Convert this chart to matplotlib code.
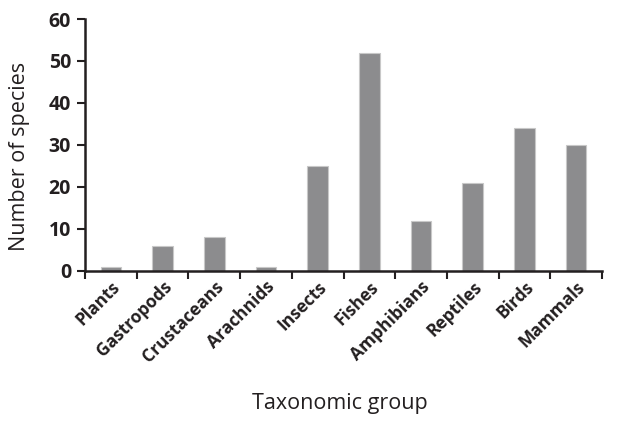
import matplotlib.pyplot as plt
import numpy as np

# datos
groups = ["Plants", "Gastropods", "Crustaceans", "Arachnids", "Insects",
          "Fishes", "Amphibians", "Reptiles", "Birds", "Mammals"]
n_species = [1, 6, 8, 1, 25, 52, 12, 21, 34, 30]
yticks = [0, 10, 20, 30, 40, 50, 60]

plt.rcParams['font.family'] = ['Open Sans', 'DejaVu Sans']

fig = plt.figure(figsize=(6.21, 4.22), dpi=100)
ax = fig.add_axes([85 / 621, 1 - 271 / 422, 517 / 621, 252 / 422])

x = np.arange(len(groups))
ax.bar(x, n_species, width=0.4, color="#8c8c8e", edgecolor="#c8c8c8", linewidth=0.8)

ax.set_xlim(-0.5, len(groups) - 0.5)
ax.set_ylim(0, 60)
ax.set_yticks(yticks)
ax.set_yticklabels([str(t) for t in yticks], fontsize=14, fontweight="bold", color="#231f20")

# ticks del eje x en los bordes de categorias
ax.set_xticks(np.arange(len(groups) + 1) - 0.5)
ax.set_xticklabels([])
ax.set_xticks(x, minor=True)
ax.set_xticklabels(groups, minor=True, rotation=45, ha="right", rotation_mode="anchor",
                   fontsize=12.5, fontweight="bold", color="#231f20")
ax.tick_params(axis="x", which="minor", length=0, pad=5)
ax.tick_params(axis="x", which="major", direction="out", length=6, width=1.5, color="#231f20")
ax.tick_params(axis="y", direction="out", length=6, width=1.5, color="#231f20", pad=4)

for s in ["top", "right"]:
    ax.spines[s].set_visible(False)
for s in ["left", "bottom"]:
    ax.spines[s].set_linewidth(1.8)
    ax.spines[s].set_color("#231f20")

fig.text(20 / 621, 1 - 156 / 422, "Number of species", fontsize=15.5, color="#231f20",
         ha="center", va="center", rotation=90)
fig.text(340 / 621, 1 - 404 / 422, "Taxonomic group", fontsize=15.5, color="#231f20",
         ha="center", va="center")

fig.savefig("out.png", dpi=100)
